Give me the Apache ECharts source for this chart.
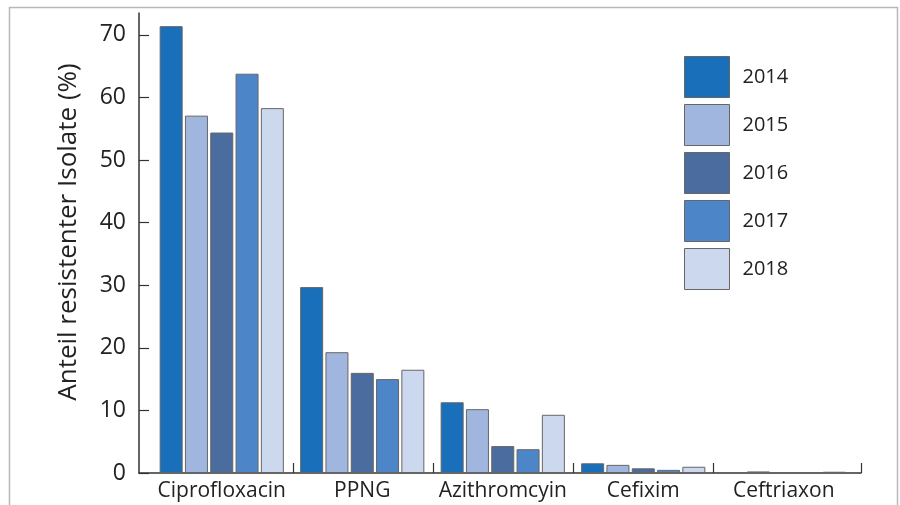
<!DOCTYPE html>
<html><head><meta charset="utf-8">
<script src="https://cdn.jsdelivr.net/npm/echarts@6/dist/echarts.min.js"></script>
<style>html,body{margin:0;padding:0;background:#fff}#c{width:900px;height:505px}</style>
</head><body><div id="c"></div>
<script>
const categories = ['Ciprofloxacin', 'PPNG', 'Azithromcyin', 'Cefixim', 'Ceftriaxon'];
const years = ['2014', '2015', '2016', '2017', '2018'];
const v2014 = [71.4, 29.7, 11.3, 1.55, 0];
const v2015 = [57.1, 19.3, 10.2, 1.3, 0.25];
const v2016 = [54.4, 16.0, 4.3, 0.75, 0];
const v2017 = [63.8, 15.0, 3.8, 0.5, 0];
const v2018 = [58.3, 16.5, 9.3, 1.0, 0.2];
const yTicks = [0, 10, 20, 30, 40, 50, 60, 70];
const colors = ['#1a6fba', '#a1b6de', '#4a6c9e', '#4d86c8', '#ccd8ee'];
const seriesValues = [v2014, v2015, v2016, v2017, v2018];

const FONT = 'Open Sans';
const chart = echarts.init(document.getElementById('c'), null, {renderer: 'canvas'});
chart.setOption({
  animation: false,
  textStyle: {fontFamily: FONT},
  graphic: [{
    type: 'rect', left: 7, top: 5, silent: true,
    shape: {width: 888, height: 540},
    style: {fill: 'none', stroke: '#b8b8b8', lineWidth: 1.5}
  }],
  legend: {
    orient: 'vertical', left: 684, top: 56, padding: 0,
    itemWidth: 45, itemHeight: 41, itemGap: 6,
    icon: 'rect',
    data: years,
    textStyle: {fontSize: 20, color: '#222', fontFamily: FONT, padding: [0, 0, 0, 8]},
    itemStyle: {borderColor: '#666', borderWidth: 1}
  },
  grid: [
    {left: 139, right: 39, top: 13, bottom: 32},
    {left: 151.5, right: 46, top: 13, bottom: 32}
  ],
  xAxis: [
    {
      type: 'value', gridIndex: 0, min: -0.596, max: 4.55,
      axisLine: {show: true, onZero: false, lineStyle: {color: '#333', width: 1.5}},
      axisTick: {show: true, inside: true, length: 10, customValues: [0.5, 1.5, 2.5, 3.5, 4.55], lineStyle: {color: '#333', width: 1.2}},
      axisLabel: {show: false}, splitLine: {show: false}
    },
    {
      type: 'category', gridIndex: 1, data: categories,
      axisLine: {show: false}, axisTick: {show: false},
      axisLabel: {interval: 0, fontSize: 21, color: '#222', margin: 8, fontFamily: FONT}
    }
  ],
  yAxis: [
    {
      type: 'value', gridIndex: 0, min: 0, max: 73.5, interval: 10,
      name: 'Anteil resistenter Isolate (%)', nameLocation: 'middle', nameGap: 57,
      nameTextStyle: {fontSize: 26, color: '#222', fontFamily: FONT, padding: [0, 0, 0, 22]},
      axisLine: {show: true, onZero: false, lineStyle: {color: '#333', width: 1.5}},
      axisTick: {show: true, inside: true, length: 10, customValues: yTicks, lineStyle: {color: '#333', width: 1.2}},
      axisLabel: {fontSize: 23, color: '#222', margin: 13, customValues: yTicks, fontFamily: FONT},
      splitLine: {show: false}
    },
    {type: 'value', gridIndex: 1, min: 0, max: 73.5, show: false}
  ],
  series: years.map((y, i) => ({
    name: y, type: 'bar', xAxisIndex: 1, yAxisIndex: 1,
    barWidth: 23, barGap: '10%',
    itemStyle: {color: colors[i], borderColor: '#666', borderWidth: 1},
    data: seriesValues[i]
  }))
});
</script></body></html>
